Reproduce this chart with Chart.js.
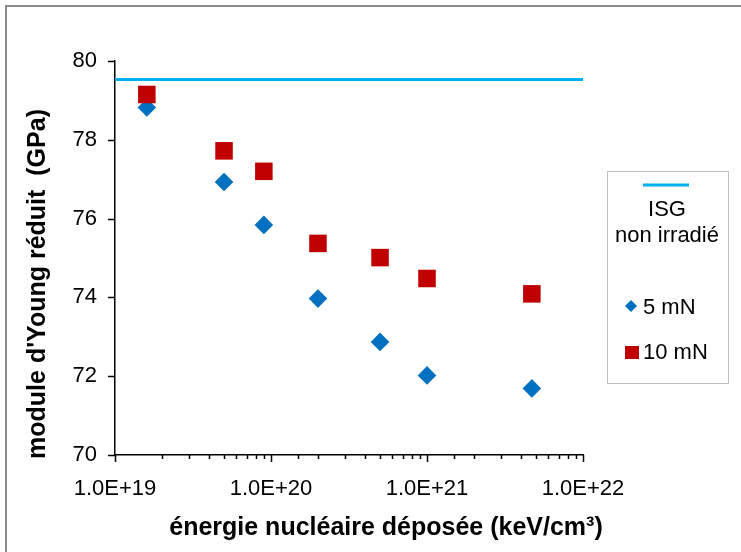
<!DOCTYPE html>
<html lang="fr">
<head>
<meta charset="utf-8">
<title>Module d'Young réduit</title>
<style>
  * { margin: 0; padding: 0; }
  body { width: 741px; height: 552px; background: #fff; overflow: hidden; position: relative; }
  .frame {
    position: absolute; left: 5px; top: 5px; width: 760px; height: 560px;
    border-left: 2px solid #8c8c8c; border-top: 2px solid #8c8c8c;
  }
  .chartBox { position: absolute; left: 0; top: 0; width: 741px; height: 552px; }
</style>
</head>
<body>
<div class="frame"></div>
<div class="chartBox"><canvas id="youngChart" width="741" height="552"></canvas></div>
<script src="https://cdn.jsdelivr.net/npm/chart.js/dist/chart.umd.min.js"></script>
<script>
// energie nucleaire deposee (keV/cm3)
const energies = [1.6e19, 5e19, 9e19, 2e20, 5e20, 1e21, 4.7e21];
// module d'Young reduit (GPa)
const module5mN = [78.82, 76.93, 75.84, 73.97, 72.87, 72.02, 71.69];
const module10mN = [79.15, 77.72, 77.20, 75.37, 75.01, 74.48, 74.09];
// reference ISG non irradie
const moduleISG = 79.53;
const xRange = [1e19, 1e22];
const yRange = [70, 80];

const xTitle = 'énergie nucléaire déposée (keV/cm³)';
const yTitle = "module d'Young réduit  (GPa)";

const FONT = '"Liberation Sans", Arial, sans-serif';

// tick marks: major ticks longer than minor ones on the log axis
const axisTicks = {
  id: 'axisTicks',
  afterDatasetsDraw(chart) {
    const ctx = chart.ctx;
    const xs = chart.scales.x, ys = chart.scales.y;
    ctx.save();
    ctx.strokeStyle = '#000';
    ctx.lineWidth = 1.5;
    ctx.beginPath();
    xs.ticks.forEach(t => {
      const px = Math.round(xs.getPixelForValue(t.value)) + 0.5;
      const major = Math.abs(Math.log10(t.value) - Math.round(Math.log10(t.value))) < 1e-9;
      ctx.moveTo(px, ys.bottom);
      ctx.lineTo(px, ys.bottom + (major ? 7 : 4));
    });
    ys.ticks.forEach(t => {
      const py = Math.round(ys.getPixelForValue(t.value)) + 0.5;
      ctx.moveTo(xs.left, py);
      ctx.lineTo(xs.left - 7, py);
    });
    ctx.stroke();
    ctx.restore();
  }
};

// axis titles, placed where the original has them
const axisTitles = {
  id: 'axisTitles',
  afterDraw(chart) {
    const ctx = chart.ctx;
    ctx.save();
    ctx.fillStyle = '#000';
    ctx.font = 'bold 25px ' + FONT;
    ctx.textAlign = 'center';
    ctx.textBaseline = 'alphabetic';
    ctx.fillText(xTitle, 386, 535);
    ctx.translate(45, 284);
    ctx.rotate(-Math.PI / 2);
    ctx.fillText(yTitle, 0, 0);
    ctx.restore();
  }
};

// legend box drawn at the right, like the original
const sideLegend = {
  id: 'sideLegend',
  afterDraw(chart) {
    const ctx = chart.ctx;
    const bx = 607, by = 171, bw = 121, bh = 212;
    ctx.save();
    ctx.strokeStyle = '#bfbfbf';
    ctx.lineWidth = 1;
    ctx.strokeRect(bx + 0.5, by + 0.5, bw, bh);

    ctx.strokeStyle = '#00B0F0';
    ctx.lineWidth = 3;
    ctx.beginPath();
    ctx.moveTo(643, 185);
    ctx.lineTo(689, 185);
    ctx.stroke();

    ctx.fillStyle = '#000';
    ctx.font = '22px ' + FONT;
    ctx.textAlign = 'center';
    ctx.textBaseline = 'middle';
    ctx.fillText('ISG', 667, 210);
    ctx.fillText('non irradié', 667, 236);

    ctx.textAlign = 'left';
    ctx.fillText('5 mN', 643, 308);
    ctx.fillText('10 mN', 643, 353);

    ctx.fillStyle = '#0070C0';
    ctx.beginPath();
    ctx.moveTo(631, 300); ctx.lineTo(637, 306); ctx.lineTo(631, 312); ctx.lineTo(625, 306);
    ctx.closePath();
    ctx.fill();

    ctx.fillStyle = '#C00000';
    ctx.fillRect(625, 346, 14, 13);
    ctx.restore();
  }
};

new Chart(document.getElementById('youngChart'), {
  type: 'scatter',
  data: {
    datasets: [
      {
        label: 'ISG non irradié',
        type: 'line',
        data: xRange.map(x => ({ x: x, y: moduleISG })),
        borderColor: '#00B0F0',
        borderWidth: 3,
        pointRadius: 0,
        order: 2
      },
      {
        label: '5 mN',
        data: energies.map((x, i) => ({ x: x, y: module5mN[i] })),
        pointStyle: 'rectRot',
        pointRadius: 9.3,
        pointHoverRadius: 9.3,
        borderWidth: 0,
        backgroundColor: '#0070C0',
        borderColor: '#0070C0',
        order: 1
      },
      {
        label: '10 mN',
        data: energies.map((x, i) => ({ x: x, y: module10mN[i] })),
        pointStyle: 'rect',
        pointRadius: 12.4,
        pointHoverRadius: 12.4,
        borderWidth: 0,
        backgroundColor: '#C00000',
        borderColor: '#C00000',
        order: 0
      }
    ]
  },
  options: {
    responsive: false,
    animation: false,
    layout: { padding: { left: 0, right: 158, top: 61, bottom: 0 } },
    plugins: {
      legend: { display: false },
      tooltip: { enabled: false }
    },
    scales: {
      x: {
        type: 'logarithmic',
        min: xRange[0],
        max: xRange[1],
        afterFit(scale) { scale.height = 97; },
        border: { color: '#000', width: 1.5 },
        grid: { display: false },
        ticks: {
          color: '#000',
          font: { family: FONT, size: 22 },
          padding: 13,
          maxRotation: 0,
          autoSkip: false,
          callback(value) {
            const e = Math.log10(value);
            if (Math.abs(e - Math.round(e)) > 1e-9) return '';
            return '1.0E+' + Math.round(e);
          }
        }
      },
      y: {
        min: yRange[0],
        max: yRange[1],
        afterFit(scale) { scale.width = 115; },
        border: { color: '#000', width: 1.5 },
        grid: { display: false },
        ticks: {
          stepSize: 2,
          color: '#000',
          font: { family: FONT, size: 22 },
          padding: 10
        }
      }
    }
  },
  plugins: [axisTicks, axisTitles, sideLegend]
});
</script>
</body>
</html>
